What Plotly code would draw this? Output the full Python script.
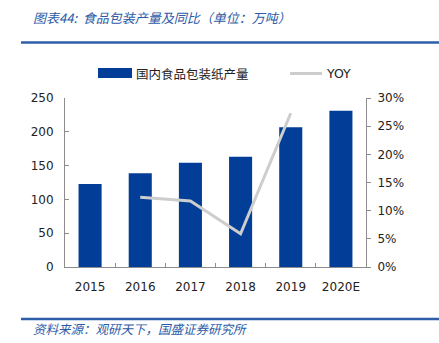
import plotly.graph_objects as go

categories = ["2015", "2016", "2017", "2018", "2019", "2020E"]
production = [122.8, 138.6, 154.3, 163.0, 206.6, 231.0]
yoy_categories = ["2016", "2017", "2018", "2019"]
yoy = [0.124, 0.117, 0.059, 0.273]

bar_name = "国内食品包装纸产量"
line_name = "YOY"
title_text = "图表44:  食品包装产量及同比（单位：万吨）"
source_text = "资料来源：观研天下，国盛证券研究所"

W, H = 439, 343
L, R, T, B = 65, 366, 98, 267

def px(x):
    return (x - L) / (R - L)

def py(y):
    return (B - y) / (B - T)

BLUE = "#023E97"
GREY = "#CDCDCD"
AXIS = "#8C8C8C"
TXT_BLUE = "#2C5AA6"
font_lat = "DejaVu Sans, Verdana, sans-serif"
font_cjk = "Noto Sans CJK SC, sans-serif"

fig = go.Figure()
fig.add_trace(go.Bar(x=categories, y=production, name=bar_name,
                     marker=dict(color=BLUE, line=dict(width=0)),
                     width=0.46, showlegend=False))
fig.add_trace(go.Scatter(x=yoy_categories, y=yoy, name=line_name, yaxis="y2",
                         mode="lines", line=dict(color=GREY, width=3),
                         showlegend=False))

fig.update_layout(
    width=W, height=H,
    margin=dict(l=L, r=W - R, t=T, b=H - B),
    paper_bgcolor="white", plot_bgcolor="white",
    xaxis=dict(type="category", showline=True, linecolor=AXIS, linewidth=1,
               ticks="inside", tickcolor=AXIS, ticklen=4, tickson="boundaries",
               ticklabelstandoff=9,
               showgrid=False, tickfont=dict(family=font_lat, size=12, color="#222222"),
               range=[-0.5, 5.5]),
    yaxis=dict(range=[0, 250], dtick=50, showline=True, linecolor=AXIS, linewidth=1,
               ticks="inside", tickcolor=AXIS, ticklen=4, showgrid=False,
               zeroline=False, ticklabelstandoff=8,
               tickfont=dict(family=font_lat, size=12, color="#222222")),
    yaxis2=dict(range=[0, 0.30], dtick=0.05, tickformat=".0%", overlaying="y",
                side="right", showline=True, linecolor=AXIS, linewidth=1,
                ticks="outside", tickcolor=AXIS, ticklen=4, showgrid=False,
                zeroline=False, ticklabelstandoff=4,
                tickfont=dict(family=font_lat, size=12, color="#222222")),
)

shapes = [
    dict(type="line", xref="paper", yref="paper", x0=px(21), x1=px(439),
         y0=py(42.5), y1=py(42.5), line=dict(color="#2E5EA8", width=2.5)),
    dict(type="line", xref="paper", yref="paper", x0=px(21), x1=px(439),
         y0=py(319), y1=py(319), line=dict(color="#2E5EA8", width=2.5)),
    dict(type="rect", xref="paper", yref="paper", x0=px(98), x1=px(132),
         y0=py(78), y1=py(68), fillcolor=BLUE, line=dict(width=0)),
    dict(type="line", xref="paper", yref="paper", x0=px(290), x1=px(322),
         y0=py(73.5), y1=py(73.5), line=dict(color=GREY, width=3)),
]
fig.update_layout(shapes=shapes)

annotations = [
    dict(text="<i>" + title_text + "</i>", xref="paper", yref="paper",
         x=px(31), y=py(17.5), xanchor="left", yanchor="middle", showarrow=False,
         font=dict(family=font_cjk, size=13, color=TXT_BLUE)),
    dict(text=bar_name, xref="paper", yref="paper",
         x=px(134), y=py(73.5), xanchor="left", yanchor="middle", showarrow=False,
         font=dict(family=font_cjk, size=12.5, color="#222222")),
    dict(text=line_name, xref="paper", yref="paper",
         x=px(324), y=py(73.5), xanchor="left", yanchor="middle", showarrow=False,
         font=dict(family=font_lat, size=12.5, color="#222222")),
    dict(text="<i>" + source_text + "</i>", xref="paper", yref="paper",
         x=px(31), y=py(328), xanchor="left", yanchor="middle", showarrow=False,
         font=dict(family=font_cjk, size=12.5, color=TXT_BLUE)),
]
fig.update_layout(annotations=annotations)

fig.write_html("out.html")
